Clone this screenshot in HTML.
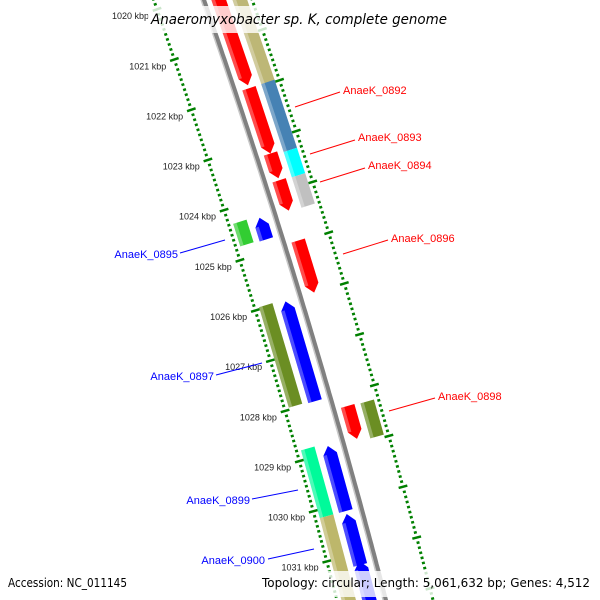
<!DOCTYPE html>
<html><head><meta charset="utf-8"><style>
html,body{margin:0;background:#fff;width:600px;height:600px;overflow:hidden}
svg{display:block;font-family:"Liberation Sans",sans-serif;overflow:hidden}
</style></head><body>
<svg id="map" width="600" height="600" viewBox="0 0 600 600">
<g id="ticks"></g>
<g id="backbone"></g>
<g id="feats"></g>
<g id="tlabels"></g>
<g font-size="11">
 <g><line x1="295" y1="107" x2="340" y2="92" stroke="#f00"/><text x="343" y="94" fill="#f00">AnaeK_0892</text></g>
 <g><line x1="310" y1="154" x2="355" y2="140" stroke="#f00"/><text x="358" y="141" fill="#f00">AnaeK_0893</text></g>
 <g><line x1="320" y1="182" x2="365" y2="168" stroke="#f00"/><text x="368" y="169" fill="#f00">AnaeK_0894</text></g>
 <g><line x1="343" y1="254" x2="388" y2="240" stroke="#f00"/><text x="391" y="242" fill="#f00">AnaeK_0896</text></g>
 <g><line x1="389" y1="411" x2="435" y2="398" stroke="#f00"/><text x="438" y="400" fill="#f00">AnaeK_0898</text></g>
 <g><line x1="180" y1="253" x2="225" y2="240" stroke="#00f"/><text x="178" y="258" fill="#00f" text-anchor="end">AnaeK_0895</text></g>
 <g><line x1="216" y1="375" x2="262" y2="363" stroke="#00f"/><text x="214" y="380" fill="#00f" text-anchor="end">AnaeK_0897</text></g>
 <g><line x1="252" y1="499" x2="298" y2="490" stroke="#00f"/><text x="250" y="504" fill="#00f" text-anchor="end">AnaeK_0899</text></g>
 <g><line x1="268" y1="559" x2="314" y2="549" stroke="#00f"/><text x="265" y="564" fill="#00f" text-anchor="end">AnaeK_0900</text></g>
</g>
<rect x="148" y="6" width="304" height="27" fill="#fff" fill-opacity="0.8"/>
<text x="151" y="24" font-size="14" font-style="italic" fill="#000" font-family="DejaVu Sans, sans-serif" textLength="296" lengthAdjust="spacingAndGlyphs">Anaeromyxobacter sp. K, complete genome</text>
<rect x="4" y="572" width="128" height="25" fill="#fff" fill-opacity="0.8"/>
<text x="8" y="587" font-size="12" font-family="DejaVu Sans, sans-serif" textLength="119" lengthAdjust="spacingAndGlyphs">Accession: NC_011145</text>
<rect x="258" y="571" width="338" height="26" fill="#fff" fill-opacity="0.8"/>
<text x="262" y="587" font-size="12" font-family="DejaVu Sans, sans-serif" textLength="328" lengthAdjust="spacingAndGlyphs">Topology: circular; Length: 5,061,632 bp; Genes: 4,512</text>
</svg>
<script>
const featStart=[1019.8,1021.96,1023.25,1023.78,1024.97,1028.24,1019.8,1021.96,1023.3,1023.8,1028.26,1024.34,1026.0,1028.87,1030.22,1031.15,1024.3,1025.96,1028.81,1030.16];
const featEnd=[1021.9,1023.25,1023.74,1024.38,1026.0,1028.89,1022.02,1023.3,1023.8,1024.4,1028.95,1024.77,1027.98,1030.16,1031.23,1032.3,1024.75,1027.96,1030.16,1032.2];
const featLane=[15,15,15,15,15,15,35,35,35,35,35,-15,-15,-15,-15,-15,-35,-35,-35,-35];
const featStrand=[1,1,1,1,1,1,0,0,0,0,0,-1,-1,-1,-1,-1,0,0,0,0];
const featColor=["#ff0000","#ff0000","#ff0000","#ff0000","#ff0000","#ff0000","#bdb776","#4682b4","#00ffff","#c0c0c0","#6b8e23","#0000ff","#0000ff","#0000ff","#0000ff","#0000ff","#32cd32","#6b8e23","#00fa9a","#bdb76b"];
const tickKbp=[1020,1021,1022,1023,1024,1025,1026,1027,1028,1029,1030,1031];
const NS="http://www.w3.org/2000/svg";
function yAt(p){return 95+(p-1022)*50.5;}
function pt(p,r){const y=yAt(p);const x=203+0.3483*y-7.5e-5*y*y;const s=0.3483-1.5e-4*y;const n=Math.hypot(1,s);return [x+r/n,y-r*s/n];}
function mk(tag,attrs,parent){const e=document.createElementNS(NS,tag);for(const k in attrs)e.setAttribute(k,attrs[k]);parent.appendChild(e);return e;}
const tg=document.getElementById('ticks');
for(let i=Math.round(1019.5*10);i<=1032.2*10;i++){const p=i/10;const major=i%10===0;
 for(const side of [-1,1]){const a=pt(p,side*(major?42:45)),b=pt(p,side*(major?51:48));
  const l=mk('line',{x1:a[0],y1:a[1],x2:b[0],y2:b[1],stroke:'#008000','stroke-width':2.5},tg);
  
  }}
const bg=document.getElementById('backbone');
function bpath(r){let d='';for(let p=1019.3;p<=1032.2;p+=0.1){const q=pt(p,r);d+=(d?'L':'M')+q[0].toFixed(1)+','+q[1].toFixed(1);}return d;}
const b1=mk('path',{d:bpath(-1.5),stroke:'#c8c8c8','stroke-width':2,fill:'none'},bg);


const b2=mk('path',{d:bpath(1),stroke:'#808080','stroke-width':4,fill:'none'},bg);


const fg=document.getElementById('feats');
const W=7,AH=0.16;
for(let i=0;i<featStart.length;i++){
 const s=featStart[i],e=featEnd[i],r=featLane[i],st=featStrand[i];let pts=[];
 if(st===1){pts=[pt(s,r-W),pt(e-AH,r-W),pt(e,r),pt(e-AH,r+W),pt(s,r+W)];}
 else if(st===-1){pts=[pt(s+AH,r-W),pt(e,r-W),pt(e,r+W),pt(s+AH,r+W),pt(s,r)];}
 else{pts=[pt(s,r-W),pt(e,r-W),pt(e,r+W),pt(s,r+W)];}
 const g=mk('g',{},fg);
 
 
 mk('polygon',{points:pts.map(q=>q.join(',')).join(' '),fill:featColor[i]},g);
 const hs=st===-1?s+AH:s,he=st===1?e-AH:e;
 mk('polygon',{points:[pt(hs,r-W),pt(he,r-W),pt(he,r-W+3.5),pt(hs,r-W+3.5)].map(q=>q.join(',')).join(' '),fill:'#fff','fill-opacity':0.3},g);
}
const lg=document.getElementById('tlabels');
for(const k of tickKbp){const q=pt(k,-55);
 const t=mk('text',{x:q[0].toFixed(1),y:(q[1]+7).toFixed(1),'font-size':9,'text-anchor':'end',fill:'#222'},lg);
 t.textContent=k+' kbp';
 
 }
</script>
</body></html>
